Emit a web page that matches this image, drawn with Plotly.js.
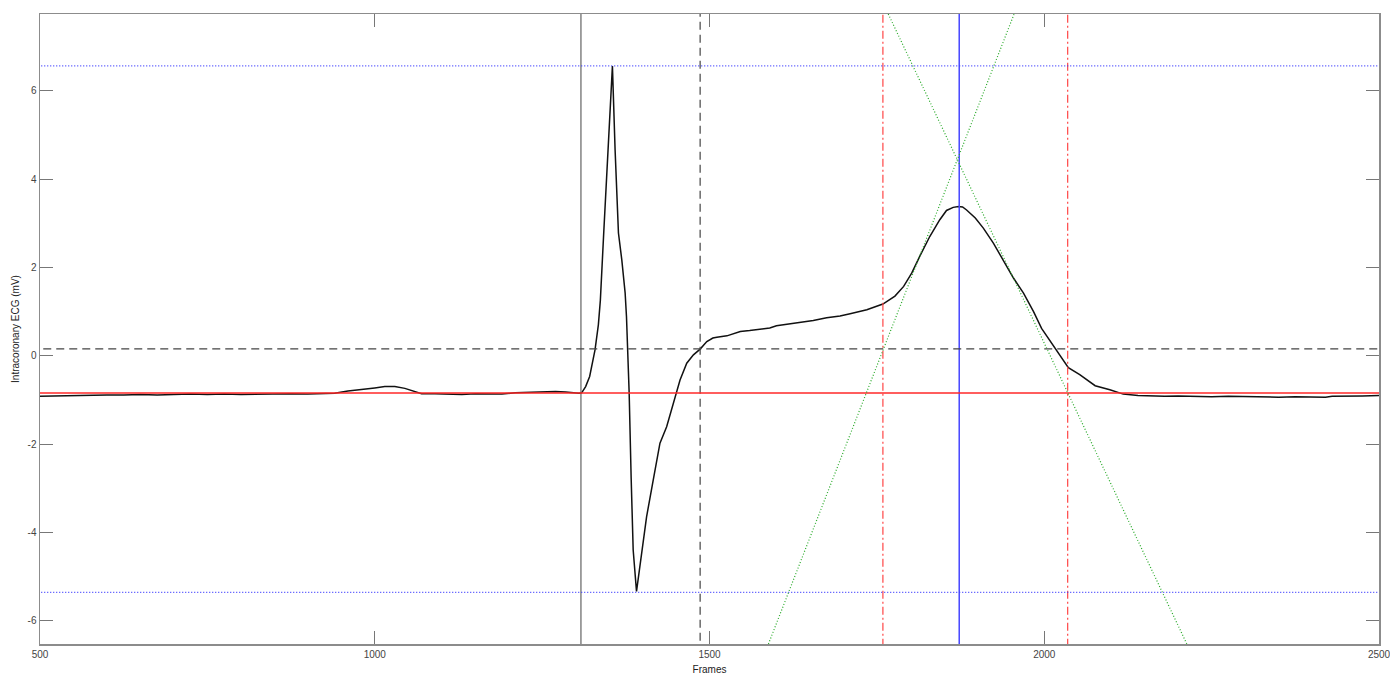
<!DOCTYPE html>
<html>
<head>
<meta charset="utf-8">
<script src="https://cdn.plot.ly/plotly-3.0.1.min.js"></script>
<style>html,body{margin:0;padding:0;background:#fff;}#chart{width:1390px;height:676px;}</style>
</head>
<body>
<div id="chart"></div>
<script>
// ECG trace (frames, mV)
const ecgFrames = [500,525,550,575,600,625,650,675,700,725,750,775,800,825,850,875,900,925,940,960,980,1000,1015,1030,1045,1060,1070,1090,1110,1130,1150,1170,1190,1210,1230,1250,1270,1285,1295,1305,1309,
  1315,1321,1329,1334,1337,1342,1347,1351,1355,1359,1364,1369,1374,1376,1380,1383,1386,1391,
  1399,1406,1416,1426,1436,1446,1456,1466,1476,1486,1496,1505,1511,1526,1536,1546,1560,1575,1590,1600,1620,1635,1655,1675,1695,1710,1735,1759,1777,1790,1802,1814,1829,1844,1854,1864,1872,1878,1884,1897,1909,1924,1939,1954,1969,1984,1996,2014,2026,2036,2053,2076,2098,2118,2140,2158,
  2180,2200,2225,2250,2275,2300,2325,2350,2375,2400,2420,2430,2450,2475,2500];
const ecgValues = [-0.92,-0.91,-0.90,-0.90,-0.89,-0.89,-0.88,-0.89,-0.88,-0.87,-0.88,-0.87,-0.88,-0.87,-0.87,-0.86,-0.87,-0.86,-0.85,-0.80,-0.77,-0.73,-0.70,-0.70,-0.74,-0.82,-0.86,-0.86,-0.87,-0.88,-0.86,-0.87,-0.87,-0.84,-0.83,-0.82,-0.81,-0.82,-0.84,-0.85,-0.84,
  -0.70,-0.47,0.13,0.70,1.26,2.78,4.28,5.64,6.56,4.66,2.78,2.17,1.42,0.89,-0.84,-2.78,-4.40,-5.34,
  -4.40,-3.65,-2.81,-1.98,-1.61,-1.08,-0.55,-0.17,0.02,0.15,0.32,0.40,0.42,0.45,0.50,0.55,0.57,0.60,0.63,0.68,0.72,0.76,0.80,0.86,0.90,0.95,1.04,1.17,1.35,1.57,1.87,2.25,2.70,3.08,3.29,3.36,3.38,3.37,3.30,3.12,2.89,2.55,2.17,1.76,1.42,1.00,0.62,0.21,-0.06,-0.27,-0.43,-0.68,-0.77,-0.87,-0.90,-0.91,
  -0.92,-0.91,-0.92,-0.93,-0.92,-0.93,-0.93,-0.94,-0.93,-0.93,-0.94,-0.92,-0.92,-0.91,-0.90];

// marker lines
const onsetFrame = 1308;          // black solid vertical
const jPointFrame = 1486;         // black dashed vertical
const tWindowFrames = [1759, 2035]; // red dash-dot verticals
const tPeakFrame = 1873;          // blue solid vertical
const maxLevel = 6.565;           // blue dotted horizontal (top)
const minLevel = -5.36;           // blue dotted horizontal (bottom)
const jLevel = 0.154;             // black dashed horizontal
const baseLevel = -0.845;         // red solid horizontal
// green tangent lines: endpoints read at the plot edges
const tangentUpX = [1588, 1955], tangentUpY = [-6.53, 7.74];
const tangentDownX = [1767, 2213], tangentDownY = [7.74, -6.53];

const xRange = [500, 2500];
const yRange = [-6.53, 7.74];
const xTicks = [500, 1000, 1500, 2000, 2500];
const yTicks = [-6, -4, -2, 0, 2, 4, 6];

const vLine = (x, color, dash, width) => ({x:[x,x], y:[-20,20], mode:'lines', line:{color:color, dash:dash, width:width}, hoverinfo:'skip', showlegend:false});
const hLine = (y, color, dash, width) => ({x:[0,3000], y:[y,y], mode:'lines', line:{color:color, dash:dash, width:width}, hoverinfo:'skip', showlegend:false});

const traces = [
  {x: ecgFrames, y: ecgValues, mode:'lines', line:{color:'#111', width:1.5}, showlegend:false},
  vLine(onsetFrame, '#444', 'solid', 1),
  vLine(jPointFrame, '#444', '8px,5px', 1.2),
  vLine(tWindowFrames[0], 'rgb(255,70,70)', '8px,3px,2px,3px', 1.2),
  vLine(tWindowFrames[1], 'rgb(255,70,70)', '8px,3px,2px,3px', 1.2),
  vLine(tPeakFrame, 'rgb(70,70,255)', 'solid', 1.5),
  hLine(maxLevel, 'rgb(60,60,255)', '1px,2px', 1.2),
  hLine(minLevel, 'rgb(60,60,255)', '1px,2px', 1.2),
  hLine(jLevel, '#444', '8px,5px', 1.2),
  hLine(baseLevel, 'rgb(255,40,40)', 'solid', 1.5),
  {x: tangentUpX, y: tangentUpY, mode:'lines', line:{color:'rgb(40,170,40)', dash:'1px,2px', width:1.2}, hoverinfo:'skip', showlegend:false},
  {x: tangentDownX, y: tangentDownY, mode:'lines', line:{color:'rgb(40,170,40)', dash:'1px,2px', width:1.2}, hoverinfo:'skip', showlegend:false}
];

const axisCommon = {
  showline:true, linecolor:'#8c8c8c', linewidth:1.5, mirror:'allticks',
  ticks:'inside', ticklen:13, tickwidth:1, tickcolor:'#777',
  showgrid:false, zeroline:false, ticklabeloverflow:'allow',
  tickfont:{family:'Liberation Sans, Arial, sans-serif', size:10, color:'#444'}
};

const layout = {
  width:1390, height:676,
  margin:{l:40, r:11, t:14, b:32, pad:0},
  paper_bgcolor:'#fff', plot_bgcolor:'#fff',
  showlegend:false,
  xaxis: Object.assign({}, axisCommon, {
    range:xRange, tickvals:xTicks, ticktext:xTicks.map(String),
    title:{text:'Frames', font:{family:'Liberation Sans, Arial, sans-serif', size:10, color:'#222'}, standoff:7}
  }),
  yaxis: Object.assign({}, axisCommon, {
    range:yRange, tickvals:yTicks, ticktext:yTicks.map(String),
    title:{text:'Intracoronary ECG (mV)', font:{family:'Liberation Sans, Arial, sans-serif', size:10, color:'#222'}, standoff:6}
  })
};

Plotly.newPlot('chart', traces, layout, {displayModeBar:false, staticPlot:true});
</script>
</body>
</html>
